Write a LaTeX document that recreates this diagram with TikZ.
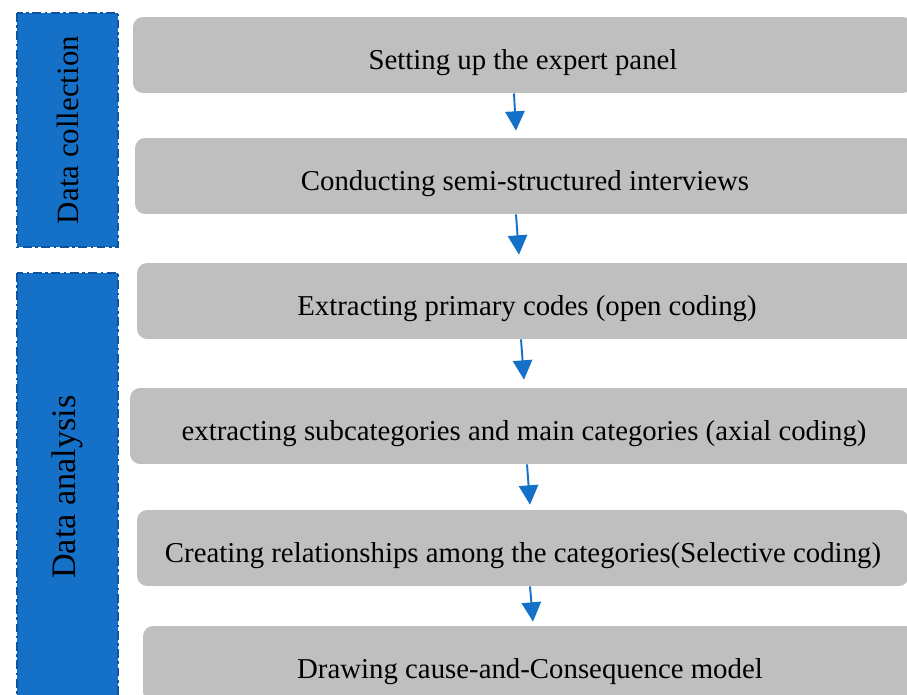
\documentclass[tikz,border=0pt]{standalone}
\usepackage{fontspec}
\setmainfont{Liberation Serif}
\usetikzlibrary{arrows.meta}

\definecolor{phaseblue}{RGB}{21,112,200}
\definecolor{phaseedge}{RGB}{14,84,158}
\definecolor{stepgray}{RGB}{191,191,191}

\tikzset{
    stepbox/.style={fill=stepgray, rounded corners=0.2cm, minimum height=1.52cm,
        font=\fontsize{16.4}{19}\selectfont, inner sep=0pt,
        text height=0.66cm, text depth=0.06cm},
    phase/.style={fill=phaseblue, draw=phaseedge, line width=1pt,
        dash pattern=on 5pt off 2pt on 1.5pt off 2pt, minimum height=2.02cm,
        font=\fontsize{17.6}{20}\selectfont, rotate=90, inner sep=0pt},
    flow/.style={-{Triangle[width=11pt,length=11pt]}, draw=phaseblue, line width=1.1pt}
}

\begin{document}
\begin{tikzpicture}[x=0.02cm, y=-0.02cm]
        \useasboundingbox (0, 0) rectangle (907, 695);
        \clip (0, 0) rectangle (907, 695);

        % Phases
        \node[phase, minimum width=4.68cm] (collect) at (67.5, 130) {Data collection};
        \node[phase, minimum width=8.56cm, font=\fontsize{19.5}{22}\selectfont] (analyse) at (67.5, 487) {Data analysis};

        % Steps
        \node[stepbox, minimum width=15.6cm] (panel) at (523, 55) {Setting up the expert panel};
        \node[stepbox, minimum width=15.6cm] (interview) at (525, 176) {Conducting semi-structured interviews};
        \node[stepbox, minimum width=15.6cm] (open) at (527, 301) {Extracting primary codes (open coding)};
        \node[stepbox, minimum width=15.76cm] (axial) at (524, 426) {extracting subcategories and main categories (axial coding)};
        \node[stepbox, minimum width=15.44cm] (select) at (523, 548) {Creating relationships among the categories(Selective coding)};
        \node[stepbox, minimum width=15.48cm] (model) at (530, 664) {Drawing cause-and-Consequence model};

        % Arrows
        \draw[flow] ([xshift=-0.18cm]panel.south) -- ([xshift=-0.18cm, yshift=0.14cm]interview.north);
        \draw[flow] ([xshift=-0.18cm]interview.south) -- ([xshift=-0.16cm, yshift=0.16cm]open.north);
        \draw[flow] ([xshift=-0.12cm]open.south) -- ([xshift=0cm, yshift=0.16cm]axial.north);
        \draw[flow] ([xshift=0.06cm]axial.south) -- ([xshift=0.14cm, yshift=0.1cm]select.north);
        \draw[flow] ([xshift=0.14cm]select.south) -- ([xshift=0.06cm, yshift=0.08cm]model.north);

    \end{tikzpicture}
\end{document}
